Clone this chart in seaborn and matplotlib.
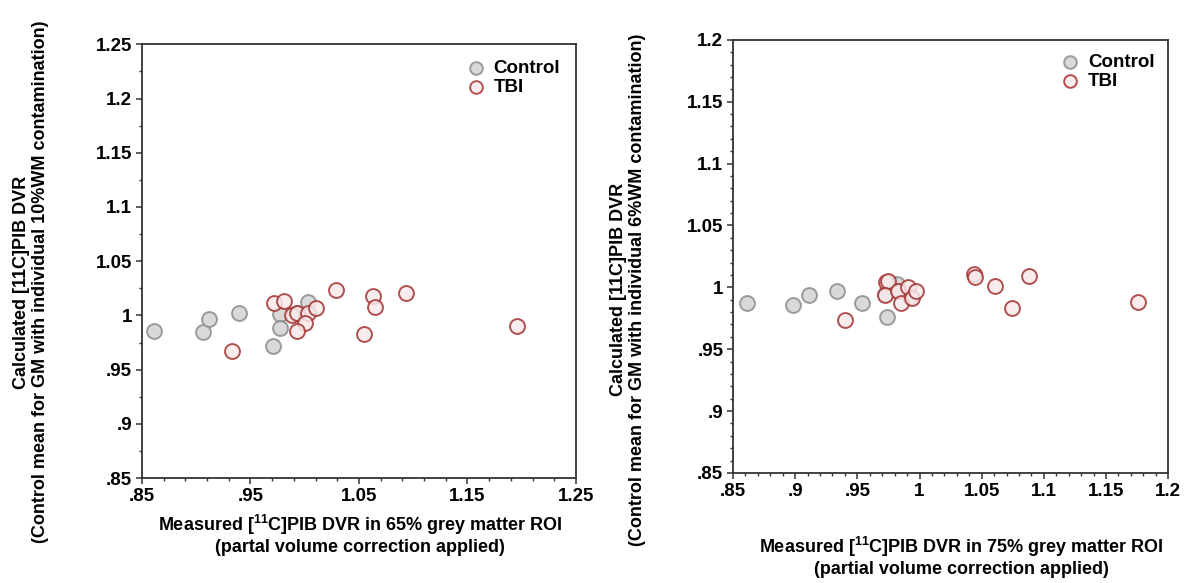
import seaborn as sns
import matplotlib.pyplot as plt
import pandas as pd
from matplotlib.ticker import MultipleLocator, FuncFormatter

# Left panel: 65% grey matter ROI, 10% WM contamination
ctrl65_x = [0.861, 0.906, 0.912, 0.939, 0.977, 0.977, 0.971, 1.003, 0.993]
ctrl65_y = [0.986, 0.985, 0.997, 1.002, 1.001, 0.988, 0.972, 1.012, 1.002]
tbi65_x = [0.972, 0.981, 0.933, 0.988, 0.993, 1.003, 1.000, 1.010, 0.993,
           1.029, 1.063, 1.065, 1.093, 1.055, 1.196]
tbi65_y = [1.011, 1.013, 0.967, 1.000, 1.002, 1.002, 0.993, 1.007, 0.986,
           1.023, 1.018, 1.008, 1.021, 0.983, 0.990]

# Right panel: 75% grey matter ROI, 6% WM contamination
ctrl75_x = [0.861, 0.898, 0.911, 0.934, 0.954, 0.974, 0.982, 0.972, 0.983, 0.992]
ctrl75_y = [0.987, 0.986, 0.994, 0.997, 0.987, 0.976, 1.003, 0.995, 0.997, 0.992]
tbi75_x = [0.940, 0.973, 0.975, 0.972, 0.983, 0.985, 0.991, 0.994, 0.997,
           1.044, 1.045, 1.061, 1.088, 1.074, 1.176]
tbi75_y = [0.974, 1.004, 1.005, 0.994, 0.997, 0.987, 1.000, 0.991, 0.997,
           1.011, 1.008, 1.001, 1.009, 0.983, 0.988]

groups = ['Control', 'TBI']

sns.set_style('ticks')
plt.rcParams['font.family'] = ['Liberation Sans', 'DejaVu Sans']
plt.rcParams['font.weight'] = 'bold'
plt.rcParams['mathtext.default'] = 'regular'
plt.rcParams['text.color'] = 'black'
plt.rcParams['axes.labelcolor'] = 'black'
plt.rcParams['xtick.labelcolor'] = 'black'
plt.rcParams['ytick.labelcolor'] = 'black'


def make_df(cx, cy, tx, ty):
    return pd.DataFrame({
        'x': cx + tx,
        'y': cy + ty,
        'group': ['Control'] * len(cx) + ['TBI'] * len(tx),
    })


def fmt(v, pos):
    s = f'{v:.2f}'.rstrip('0').rstrip('.')
    if s.startswith('0.'):
        s = s[1:]
    return s


face = {'Control': '#d3d3d3', 'TBI': '#f7e9e9'}
edge = {'Control': '#8c8c8c', 'TBI': '#a33333'}

fig = plt.figure(figsize=(11.89, 5.83), dpi=100)
ax1 = fig.add_axes([0.1194, 0.180, 0.365, 0.744])
ax2 = fig.add_axes([0.6165, 0.1887, 0.366, 0.743])

panels = [
    (ax1, make_df(ctrl65_x, ctrl65_y, tbi65_x, tbi65_y), (0.85, 1.25), 0.1, 0.05, 0.02, 0.05, 0.025,
     'Measured [$^{11}$C]PIB DVR in 65% grey matter ROI\n(partal volume correction applied)',
     'Calculated [11C]PIB DVR\n(Control mean for GM with individual 10%WM contamination)',
     (0.502, -0.129), (-0.255, 0.452), (0.985, 0.985)),
    (ax2, make_df(ctrl75_x, ctrl75_y, tbi75_x, tbi75_y), (0.85, 1.2), 0.05, 0.0, 0.01, 0.05, 0.01,
     'Measured [$^{11}$C]PIB DVR in 75% grey matter ROI\n(partial volume correction applied)',
     'Calculated [11C]PIB DVR\n(Control mean for GM with individual 6%WM contamination)',
     (0.524, -0.192), (-0.241, 0.423), (0.99, 0.99)),
]

for ax, df, lim, xmaj, xoff, xmin, ymaj, ymin, xl, yl, xlc, ylc, legpos in panels:
    for g in groups:
        sub = df[df['group'] == g]
        sns.scatterplot(data=sub, x='x', y='y', ax=ax, s=115, color=face[g],
                        edgecolor=edge[g], linewidth=1.4, alpha=0.85, label=g)
    ax.set_xlim(lim)
    ax.set_ylim(0.85, lim[1])
    ax.xaxis.set_major_locator(MultipleLocator(xmaj, offset=xoff))
    ax.xaxis.set_minor_locator(MultipleLocator(xmin, offset=xoff))
    ax.yaxis.set_major_locator(MultipleLocator(ymaj))
    ax.yaxis.set_minor_locator(MultipleLocator(ymin))
    ax.xaxis.set_major_formatter(FuncFormatter(fmt))
    ax.yaxis.set_major_formatter(FuncFormatter(fmt))
    ax.tick_params(which='major', direction='out', length=4, width=1.1,
                   labelsize=13.5, color='#333333', labelcolor='black', pad=3)
    ax.tick_params(which='minor', direction='out', length=2.5, width=1, color='#333333')
    for t in ax.get_xticklabels() + ax.get_yticklabels():
        t.set_fontweight('bold')
    for sp in ax.spines.values():
        sp.set_visible(True)
        sp.set_color('#333333')
        sp.set_linewidth(1.3)
    ax.set_xlabel(xl, fontsize=13, fontweight='bold', linespacing=1.15, color='black')
    ax.set_ylabel(yl, fontsize=13, fontweight='bold', linespacing=1.15, color='black')
    ax.xaxis.label.set_va('center')
    ax.yaxis.label.set_va('center')
    ax.xaxis.set_label_coords(*xlc)
    ax.yaxis.set_label_coords(*ylc)
    ax.legend(loc='upper right', bbox_to_anchor=legpos, frameon=False,
              handlelength=1.0, handletextpad=0.45, labelspacing=0.1, borderpad=0,
              prop={'weight': 'bold', 'size': 13.5}, markerscale=0.85)

fig.savefig('out.png', dpi=100)
